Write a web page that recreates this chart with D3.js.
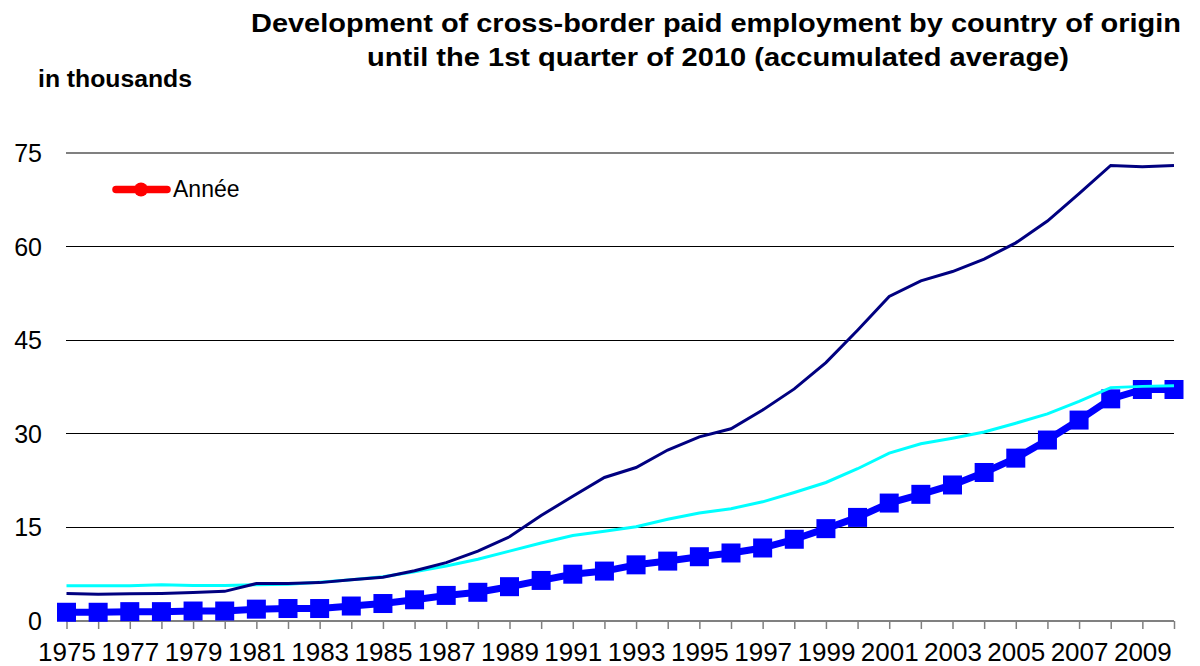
<!DOCTYPE html>
<html lang="en">
    <head>
        <meta charset="utf-8">
        <title>Cross-border paid employment</title>
        <script type="text/javascript" src="https://cdn.jsdelivr.net/npm/d3@7"></script>
        <style type="text/css">
            body {
                margin: 0;
                background: white;
            }
            text {
                font-family: Arial, "Liberation Sans", sans-serif;
                fill: black;
            }
        </style>
    </head>
    <body>
        <script type="text/javascript">

            // Data (thousands), 1975 .. 2010
            var years = d3.range(1975, 2011);
            var yTicks = [0, 15, 30, 45, 60, 75];

            var serieBleu = [1.4, 1.4, 1.5, 1.5, 1.6, 1.6, 1.9, 2.0, 2.0, 2.4,
                             2.8, 3.4, 4.1, 4.6, 5.5, 6.5, 7.5, 8.0, 9.0, 9.6,
                             10.3, 10.9, 11.7, 13.1, 14.8, 16.6, 18.9, 20.3, 21.8, 23.8,
                             26.1, 29.0, 32.2, 35.6, 37.1, 37.1];

            var serieCyan = [5.65, 5.65, 5.65, 5.8, 5.7, 5.7, 5.8, 5.9, 6.2, 6.6,
                             7.1, 7.9, 8.8, 9.9, 11.2, 12.5, 13.7, 14.4, 15.1, 16.3,
                             17.3, 18.0, 19.1, 20.6, 22.2, 24.4, 26.9, 28.4, 29.3, 30.3,
                             31.7, 33.2, 35.2, 37.4, 37.6, 37.7];

            var serieNavy = [4.4, 4.3, 4.35, 4.4, 4.55, 4.75, 6.0, 6.0, 6.15, 6.6,
                             7.0, 8.05, 9.35, 11.2, 13.5, 16.9, 20.0, 23.0, 24.6, 27.4,
                             29.5, 30.8, 33.8, 37.2, 41.4, 46.6, 52.0, 54.5, 56.0, 58.0,
                             60.6, 64.1, 68.5, 73.0, 72.8, 73.0];

            // Width and height
            var w = 1200;
            var h = 666;

            var svg = d3.select("body")
                        .append("svg")
                        .attr("width", w)
                        .attr("height", h);

            // Scales
            var xScale = d3.scalePoint()
                           .domain(years)
                           .range([66.5, 1174]);

            var yScale = d3.scaleLinear()
                           .domain([0, 75])
                           .range([621, 153]);

            // Gridlines
            svg.append("g")
               .selectAll("line")
               .data(yTicks.filter(function(d) { return d > 0; }))
               .enter()
               .append("line")
               .attr("x1", 66)
               .attr("x2", 1174)
               .attr("y1", function(d) { return yScale(d); })
               .attr("y2", function(d) { return yScale(d); })
               .attr("stroke", function(d) { return d === 75 ? "#808080" : "black"; })
               .attr("stroke-width", function(d) { return d === 75 ? 1.6 : 1; })
               .attr("shape-rendering", "crispEdges");

            // Y labels
            svg.append("g")
               .selectAll("text")
               .data(yTicks)
               .enter()
               .append("text")
               .attr("x", 42)
               .attr("y", function(d) { return yScale(d) + 9; })
               .attr("text-anchor", "end")
               .attr("font-size", "25px")
               .text(function(d) { return d; });

            // X axis
            var xAxis = d3.axisBottom()
                          .scale(xScale)
                          .tickSize(8)
                          .tickFormat(function(d) { return d % 2 === 1 ? d : ""; });

            var gx = svg.append("g")
                        .attr("transform", "translate(0,621)")
                        .call(xAxis);

            gx.select(".domain")
              .attr("stroke", "#808080")
              .attr("stroke-width", 2)
              .attr("d", "M66,0H1174");
            gx.selectAll(".tick line")
              .attr("stroke", "#808080")
              .attr("stroke-width", 1.5);
            gx.selectAll(".tick text")
              .attr("font-family", "Arial, 'Liberation Sans', sans-serif")
              .attr("font-size", "26px")
              .attr("fill", "black")
              .attr("dy", null)
              .attr("y", 40);

            var line = d3.line()
                         .x(function(d, i) { return xScale(years[i]); })
                         .y(function(d) { return yScale(d); });

            // Bold blue series with square markers
            svg.append("path")
               .datum(serieBleu)
               .attr("fill", "none")
               .attr("stroke", "#0000ff")
               .attr("stroke-width", 7)
               .attr("stroke-linejoin", "round")
               .attr("d", line);

            svg.append("g")
               .selectAll("rect")
               .data(serieBleu)
               .enter()
               .append("rect")
               .attr("x", function(d, i) { return xScale(years[i]) - 9.5; })
               .attr("y", function(d) { return yScale(d) - 9.5; })
               .attr("width", 19)
               .attr("height", 19)
               .attr("fill", "#0000ff");

            // Cyan series
            svg.append("path")
               .datum(serieCyan)
               .attr("fill", "none")
               .attr("stroke", "#00ffff")
               .attr("stroke-width", 3)
               .attr("d", line);

            // Navy series
            svg.append("path")
               .datum(serieNavy)
               .attr("fill", "none")
               .attr("stroke", "#000080")
               .attr("stroke-width", 3)
               .attr("d", line);

            // Legend
            var legend = svg.append("g");
            legend.append("line")
                  .attr("x1", 116)
                  .attr("x2", 167)
                  .attr("y1", 189.5)
                  .attr("y2", 189.5)
                  .attr("stroke", "#ff0000")
                  .attr("stroke-width", 7.5)
                  .attr("stroke-linecap", "round");
            legend.append("circle")
                  .attr("cx", 141)
                  .attr("cy", 189.5)
                  .attr("r", 7)
                  .attr("fill", "#ff0000");
            legend.append("text")
                  .attr("x", 173)
                  .attr("y", 197)
                  .attr("font-size", "23px")
                  .text("Année");

            // Titles
            svg.append("text")
               .attr("x", 716)
               .attr("y", 32)
               .attr("text-anchor", "middle")
               .attr("font-size", "26.5px")
               .attr("font-weight", "bold")
               .attr("textLength", 930)
               .attr("lengthAdjust", "spacingAndGlyphs")
               .text("Development of cross-border paid employment by country of origin");

            svg.append("text")
               .attr("x", 718)
               .attr("y", 66)
               .attr("text-anchor", "middle")
               .attr("font-size", "26.5px")
               .attr("font-weight", "bold")
               .attr("textLength", 702)
               .attr("lengthAdjust", "spacingAndGlyphs")
               .text("until the 1st quarter of 2010 (accumulated average)");

            svg.append("text")
               .attr("x", 38)
               .attr("y", 87)
               .attr("font-size", "23px")
               .attr("font-weight", "bold")
               .attr("textLength", 154)
               .attr("lengthAdjust", "spacingAndGlyphs")
               .text("in thousands");

        </script>
    </body>
</html>
